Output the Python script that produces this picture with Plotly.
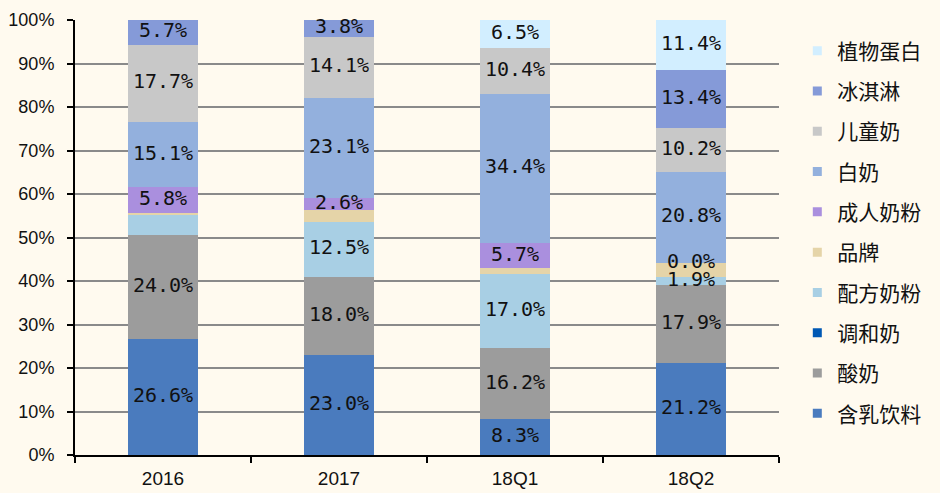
import plotly.graph_objects as go

categories = ["2016", "2017", "18Q1", "18Q2"]

# stacking order, bottom to top
series_names = ["含乳饮料", "酸奶", "调和奶", "配方奶粉", "品牌", "成人奶粉", "白奶", "儿童奶", "冰淇淋", "植物蛋白"]
han_ru_yin_liao = [26.6, 23.0, 8.3, 21.2]
suan_nai = [24.0, 18.0, 16.2, 17.9]
tiao_he_nai = [0.0, 0.0, 0.0, 0.0]
pei_fang_nai_fen = [4.6, 12.5, 17.0, 1.9]
pin_pai = [0.5, 2.9, 1.5, 3.2]
cheng_ren_nai_fen = [5.8, 2.6, 5.7, 0.0]
bai_nai = [15.1, 23.1, 34.4, 20.8]
er_tong_nai = [17.7, 14.1, 10.4, 10.2]
bing_qi_lin = [5.7, 3.8, 0.0, 13.4]
zhi_wu_dan_bai = [0.0, 0.0, 6.5, 11.4]

series_values = [han_ru_yin_liao, suan_nai, tiao_he_nai, pei_fang_nai_fen, pin_pai,
                 cheng_ren_nai_fen, bai_nai, er_tong_nai, bing_qi_lin, zhi_wu_dan_bai]

# which labels are printed in the original (per series, per category)
label_shown = [
    [1, 1, 1, 1],  # 含乳饮料
    [1, 1, 1, 1],  # 酸奶
    [0, 0, 0, 0],  # 调和奶
    [0, 1, 1, 1],  # 配方奶粉
    [0, 0, 0, 0],  # 品牌
    [1, 1, 1, 1],  # 成人奶粉
    [1, 1, 1, 1],  # 白奶
    [1, 1, 1, 1],  # 儿童奶
    [1, 1, 0, 1],  # 冰淇淋
    [0, 0, 1, 1],  # 植物蛋白
]

colors = ["#4A7BBE", "#9C9C9C", "#0058B4", "#A8CFE4", "#E5D4A8",
          "#AA8FDE", "#93B0DD", "#C8C8C8", "#859AD8", "#D2EEFF"]

y_tick_values = [0, 10, 20, 30, 40, 50, 60, 70, 80, 90, 100]
y_tick_labels = ["0%", "10%", "20%", "30%", "40%", "50%", "60%", "70%", "80%", "90%", "100%"]

fig = go.Figure()

for name, vals, col in zip(series_names, series_values, colors):
    fig.add_trace(go.Bar(
        x=categories, y=vals, name=name, marker=dict(color=col, line=dict(width=0)),
        showlegend=False, hoverinfo="x+y+name",
    ))

# labels at segment midpoints
lx, ly, lt = [], [], []
cum = [0.0] * len(categories)
for vals, shown in zip(series_values, label_shown):
    for i, v in enumerate(vals):
        if shown[i]:
            lx.append(categories[i])
            ly.append(cum[i] + v / 2.0)
            lt.append(f"{v:.1f}%")
        cum[i] += v
fig.add_trace(go.Scatter(
    x=lx, y=ly, text=lt, mode="text", showlegend=False, hoverinfo="skip",
    textfont=dict(family="DejaVu Sans Mono", size=20, color="#111111"),
    cliponaxis=False,
))

# legend entries (top to bottom)
for name, col in reversed(list(zip(series_names, colors))):
    fig.add_trace(go.Scatter(
        x=[None], y=[None], mode="markers", name=name, legendgroup=name,
        marker=dict(symbol="square", size=9, color=col),
    ))

bg = "#FFFAEF"
fig.update_layout(
    width=940, height=493,
    margin=dict(l=75, r=161, t=20, b=38, autoexpand=False),
    paper_bgcolor=bg, plot_bgcolor=bg,
    barmode="stack", bargap=0.6,
    showlegend=True,
    legend=dict(
        x=1.026, xanchor="left", y=0.5115, yanchor="middle",
        traceorder="grouped", tracegroupgap=10,
        font=dict(family="Noto Sans CJK SC", size=21, color="#111111"),
        bgcolor="rgba(0,0,0,0)", itemwidth=30,
    ),
    font=dict(family="Liberation Sans", color="#111111"),
)
fig.update_xaxes(
    type="category", categoryorder="array", categoryarray=categories,
    showline=True, linecolor="#000000", linewidth=2,
    ticks="outside", tickson="boundaries", ticklen=6, tickwidth=2, tickcolor="#000000",
    tickfont=dict(family="Liberation Sans", size=19, color="#111111"),
    showgrid=False, zeroline=False,
    ticklabelstandoff=5, automargin=False,
)
fig.update_yaxes(
    range=[0, 100], tickmode="array", tickvals=y_tick_values, ticktext=y_tick_labels,
    showline=True, linecolor="#000000", linewidth=2,
    ticks="outside", ticklen=6, tickwidth=2, tickcolor="#000000",
    tickfont=dict(family="Liberation Sans", size=18, color="#111111"),
    showgrid=True, gridcolor="#8A8A8A", gridwidth=1.5, zeroline=False,
    ticklabelstandoff=9, automargin=False,
)

fig.write_html(
    "out.html",
    config={"displayModeBar": False},
    post_script="document.body.style.margin='0';document.body.style.padding='0';document.body.style.overflow='hidden';",
)
